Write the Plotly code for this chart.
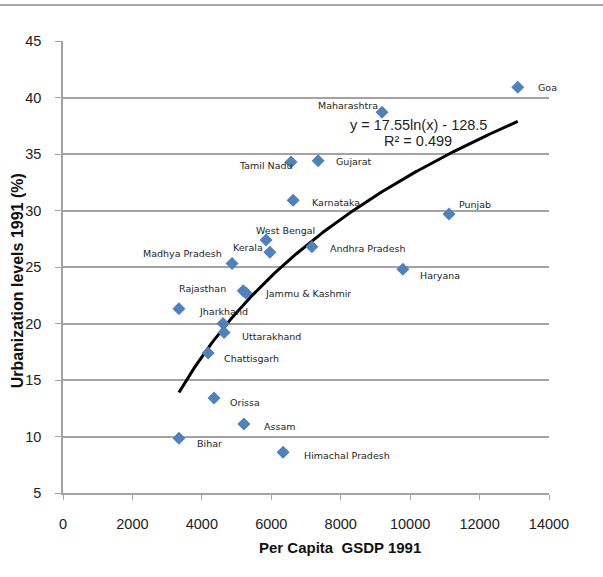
import numpy as np
import plotly.graph_objects as go

# ---- data ----
states = ["Goa", "Maharashtra", "Tamil Nadu", "Gujarat", "Karnataka", "Punjab",
          "West Bengal", "Kerala", "Andhra Pradesh", "Madhya Pradesh", "Haryana",
          "Rajasthan", "Jammu & Kashmir", "Jharkhand", "", "Uttarakhand",
          "Chattisgarh", "Orissa", "Assam", "Bihar", "Himachal Pradesh"]
gsdp_1991 = [13100, 9190, 6570, 7350, 6630, 11120,
             5850, 5960, 7170, 4870, 9790,
             5190, 5270, 3340, 4610, 4640,
             4180, 4350, 5210, 3340, 6340]
urban_1991 = [40.9, 38.7, 34.3, 34.4, 30.9, 29.7,
              27.4, 26.3, 26.8, 25.3, 24.8,
              22.9, 22.7, 21.3, 20.0, 19.2,
              17.4, 13.4, 11.1, 9.85, 8.6]
x_ticks = [0, 2000, 4000, 6000, 8000, 10000, 12000, 14000]
x_tick_labels = ["0", "2000", "4000", "6000", "8000", "10000", "12000", "14000"]
y_ticks = [5, 10, 15, 20, 25, 30, 35, 40, 45]
y_tick_labels = ["5", "10", "15", "20", "25", "30", "35", "40", "45"]
trend_a, trend_b = 17.55, -128.5
trend_label = "y = 17.55ln(x) - 128.5"
r2_label = "R² = 0.499"

# ---- label placement style (anchor, dx px, dy px; dy positive = down) ----
label_style = {
    "Goa": ("left", 18, 0), "Maharashtra": ("right", -2, -7),
    "Tamil Nadu": ("right", 4, 4), "Gujarat": ("left", 16, 1),
    "Karnataka": ("left", 17, 2), "Punjab": ("left", 8, -9),
    "West Bengal": ("left", -12, -9), "Kerala": ("right", -5, -5),
    "Andhra Pradesh": ("left", 16, 2), "Madhya Pradesh": ("right", -8, -10),
    "Haryana": ("left", 15, 6), "Rajasthan": ("right", -15, -2),
    "Jammu & Kashmir": ("left", 17, 1), "Jharkhand": ("left", 18, 3),
    "Uttarakhand": ("left", 16, 4), "Chattisgarh": ("left", 14, 6),
    "Orissa": ("left", 14, 4), "Assam": ("left", 18, 2),
    "Bihar": ("left", 16, 5), "Himachal Pradesh": ("left", 19, 3),
}

fig = go.Figure()

xt = np.linspace(min(gsdp_1991), max(gsdp_1991), 200)
fig.add_trace(go.Scatter(x=xt, y=trend_a * np.log(xt) + trend_b, mode="lines",
                         line=dict(color="black", width=3), hoverinfo="skip",
                         showlegend=False))

fig.add_trace(go.Scatter(x=gsdp_1991, y=urban_1991, mode="markers",
                         marker=dict(symbol="diamond", size=10, color="#4f81bd",
                                     line=dict(width=0)),
                         text=states, showlegend=False))

annotations = []
for name, xv, yv in zip(states, gsdp_1991, urban_1991):
    if not name:
        continue
    anchor, dx, dy = label_style[name]
    annotations.append(dict(x=xv, y=yv, text=name, showarrow=False,
                            xanchor=anchor, yanchor="middle",
                            xshift=dx, yshift=-dy,
                            font=dict(family="DejaVu Sans", size=9.5, color="#1e1e1e")))

eq_font = dict(family="Liberation Sans", size=14.5, color="#1e1e1e")
annotations.append(dict(x=10230, y=37.6, text=trend_label, showarrow=False,
                        xanchor="center", yanchor="middle", font=eq_font))
annotations.append(dict(x=10230, y=36.15, text=r2_label, showarrow=False,
                        xanchor="center", yanchor="middle", font=eq_font))

# axis titles
annotations.append(dict(x=0.57, y=-0.12, xref="paper", yref="paper",
                        text="<b>Per Capita  GSDP 1991</b>", showarrow=False,
                        xanchor="center", yanchor="middle",
                        font=dict(family="Liberation Sans", size=15, color="#111")))
annotations.append(dict(x=-0.093, y=0.47, xref="paper", yref="paper",
                        text="<b>Urbanization levels 1991 (%)</b>", showarrow=False,
                        textangle=-90, xanchor="center", yanchor="middle",
                        font=dict(family="Liberation Sans", size=16, color="#111")))
# thin grey frame line at the top of the picture
annotations.append(dict(x=0.4907, y=1.0796, xref="paper", yref="paper",
                        text=" ", showarrow=False, xanchor="center", yanchor="middle",
                        width=603, height=2, borderpad=0, borderwidth=0,
                        bgcolor="#a8a8a8", font=dict(size=1)))

grid_col = "#a3a3a3"
fig.update_layout(
    width=603, height=577,
    margin=dict(l=63, r=54, t=41, b=84),
    paper_bgcolor="white", plot_bgcolor="white",
    annotations=annotations,
    xaxis=dict(range=[0, 14000], tickvals=x_ticks, ticktext=x_tick_labels,
               ticks="outside", ticklen=5,
               tickcolor=grid_col, showgrid=False, zeroline=False,
               showline=True, linecolor=grid_col, linewidth=1.5,
               ticklabelstandoff=12,
               tickfont=dict(family="Liberation Sans", size=14.5, color="#222")),
    yaxis=dict(range=[5, 45], tickvals=y_ticks, ticktext=y_tick_labels,
               ticks="outside", ticklen=6,
               tickcolor=grid_col, showgrid=True, gridcolor=grid_col, gridwidth=1.5,
               zeroline=False, showline=True, linecolor=grid_col, linewidth=1.5,
               ticklabelstandoff=11,
               tickfont=dict(family="Liberation Sans", size=14.5, color="#222")),
)

post = (
    "document.body.style.margin='0';"
    "document.body.style.overflow='hidden';"
)
fig.write_html("out.html", config={"displayModeBar": False}, post_script=post)
